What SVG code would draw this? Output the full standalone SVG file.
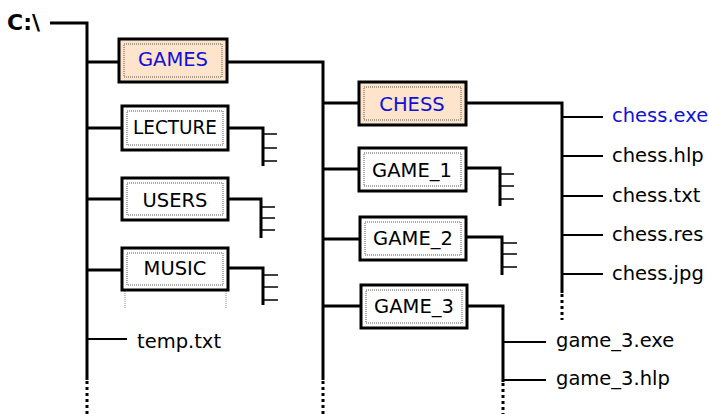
<svg xmlns="http://www.w3.org/2000/svg" width="709" height="414" viewBox="0 0 709 414">
<style>
.ln{stroke:#000;stroke-width:3;fill:none;stroke-linejoin:miter}
.tk{stroke:#000;stroke-width:1.5;fill:none}
.br{stroke:#000;stroke-width:2;fill:none}
.dot{stroke:#000;stroke-width:3;stroke-dasharray:3 3;fill:none}
.guide{stroke:#888;stroke-width:1;stroke-dasharray:1 1;fill:none}
.box{fill:#fff;stroke:#000;stroke-width:3}
.hl{fill:#fde4cb}
.inner{fill:none;stroke:#555;stroke-width:1;stroke-dasharray:1 1}
.t{font-family:"DejaVu Sans",Verdana,sans-serif;font-size:19.5px;fill:#000}
.c{text-anchor:middle}
.blue{fill:#1010d8}
</style>
<rect width="709" height="414" fill="#fff"/>
<g id="connectors">
  <path class="ln" d="M50 23 H87 V380"/>
  <line class="dot" x1="87" y1="381" x2="87" y2="414"/>
  <path class="ln" d="M87 62 H119 M87 128 H122 M87 199 H122 M87 270 H122"/>
  <line class="br" x1="87" y1="339" x2="127" y2="339"/>
  <path class="ln" d="M227 62 H323 V380"/>
  <line class="dot" x1="323" y1="381" x2="323" y2="414"/>
  <path class="ln" d="M228 128 H263 V166"/>
  <path class="tk" d="M263 134 H277 M263 148 H277 M263 161 H277"/>
  <path class="ln" d="M228 199 H261 V238"/>
  <path class="tk" d="M261 207 H275 M261 218 H275 M261 230 H275"/>
  <path class="ln" d="M228 268 H263 V305"/>
  <path class="tk" d="M263 275 H278 M263 287 H278 M263 300 H278"/>
  <path class="guide" d="M125 291 V308 M226 291 V308"/>
  <path class="ln" d="M323 103 H359 M323 169 H359 M323 239 H360 M323 306 H361"/>
  <path class="ln" d="M466 103 H562 V293"/>
  <line class="dot" x1="562" y1="294" x2="562" y2="320"/>
  <path class="br" d="M562 117 H603 M562 156 H603 M562 196 H603 M562 235 H603 M562 274 H603"/>
  <path class="ln" d="M466 168 H500 V206"/>
  <path class="tk" d="M500 174 H514 M500 186 H514 M500 199 H514"/>
  <path class="ln" d="M466 237 H502 V275"/>
  <path class="tk" d="M502 243 H517 M502 254 H517 M502 267 H517"/>
  <path class="ln" d="M467 306 H503 V382"/>
  <line class="dot" x1="503" y1="383" x2="503" y2="414"/>
  <path class="br" d="M503 342 H546 M503 380 H546"/>
</g>
<g id="root"><text class="t" x="7" y="30" style="font-weight:bold;font-size:22px">C:\</text></g>
<g id="games">
  <rect class="box hl" x="119" y="39" width="108" height="43"/>
  <rect class="inner" x="124" y="44" width="98" height="33"/>
  <text class="t c blue" x="173" y="66">GAMES</text>
</g>
<g id="lecture">
  <rect class="box" x="122" y="106" width="106" height="44"/>
  <rect class="inner" x="127" y="111" width="96" height="34"/>
  <text class="t c" x="175" y="134" textLength="84" lengthAdjust="spacingAndGlyphs">LECTURE</text>
</g>
<g id="users">
  <rect class="box" x="122" y="178" width="106" height="42"/>
  <rect class="inner" x="127" y="183" width="96" height="32"/>
  <text class="t c" x="175" y="207">USERS</text>
</g>
<g id="music">
  <rect class="box" x="122" y="248" width="106" height="42"/>
  <rect class="inner" x="127" y="253" width="96" height="32"/>
  <text class="t c" x="175" y="275">MUSIC</text>
</g>
<g id="temp"><text class="t" x="137" y="348">temp.txt</text></g>
<g id="chess">
  <rect class="box hl" x="359" y="82" width="107" height="43"/>
  <rect class="inner" x="364" y="87" width="97" height="33"/>
  <text class="t c blue" x="412" y="111">CHESS</text>
</g>
<g id="game1">
  <rect class="box" x="359" y="148" width="107" height="43"/>
  <rect class="inner" x="364" y="153" width="97" height="33"/>
  <text class="t c" x="412" y="177">GAME_1</text>
</g>
<g id="game2">
  <rect class="box" x="360" y="217" width="106" height="43"/>
  <rect class="inner" x="365" y="222" width="96" height="33"/>
  <text class="t c" x="413" y="245">GAME_2</text>
</g>
<g id="game3">
  <rect class="box" x="361" y="285" width="106" height="43"/>
  <rect class="inner" x="366" y="290" width="96" height="33"/>
  <text class="t c" x="414" y="313">GAME_3</text>
</g>
<g id="chessfiles">
  <text class="t blue" x="612" y="122">chess.exe</text>
  <text class="t" x="612" y="162">chess.hlp</text>
  <text class="t" x="612" y="202">chess.txt</text>
  <text class="t" x="612" y="241">chess.res</text>
  <text class="t" x="612" y="280">chess.jpg</text>
</g>
<g id="game3files">
  <text class="t" x="556" y="347">game_3.exe</text>
  <text class="t" x="556" y="385">game_3.hlp</text>
</g>
</svg>
